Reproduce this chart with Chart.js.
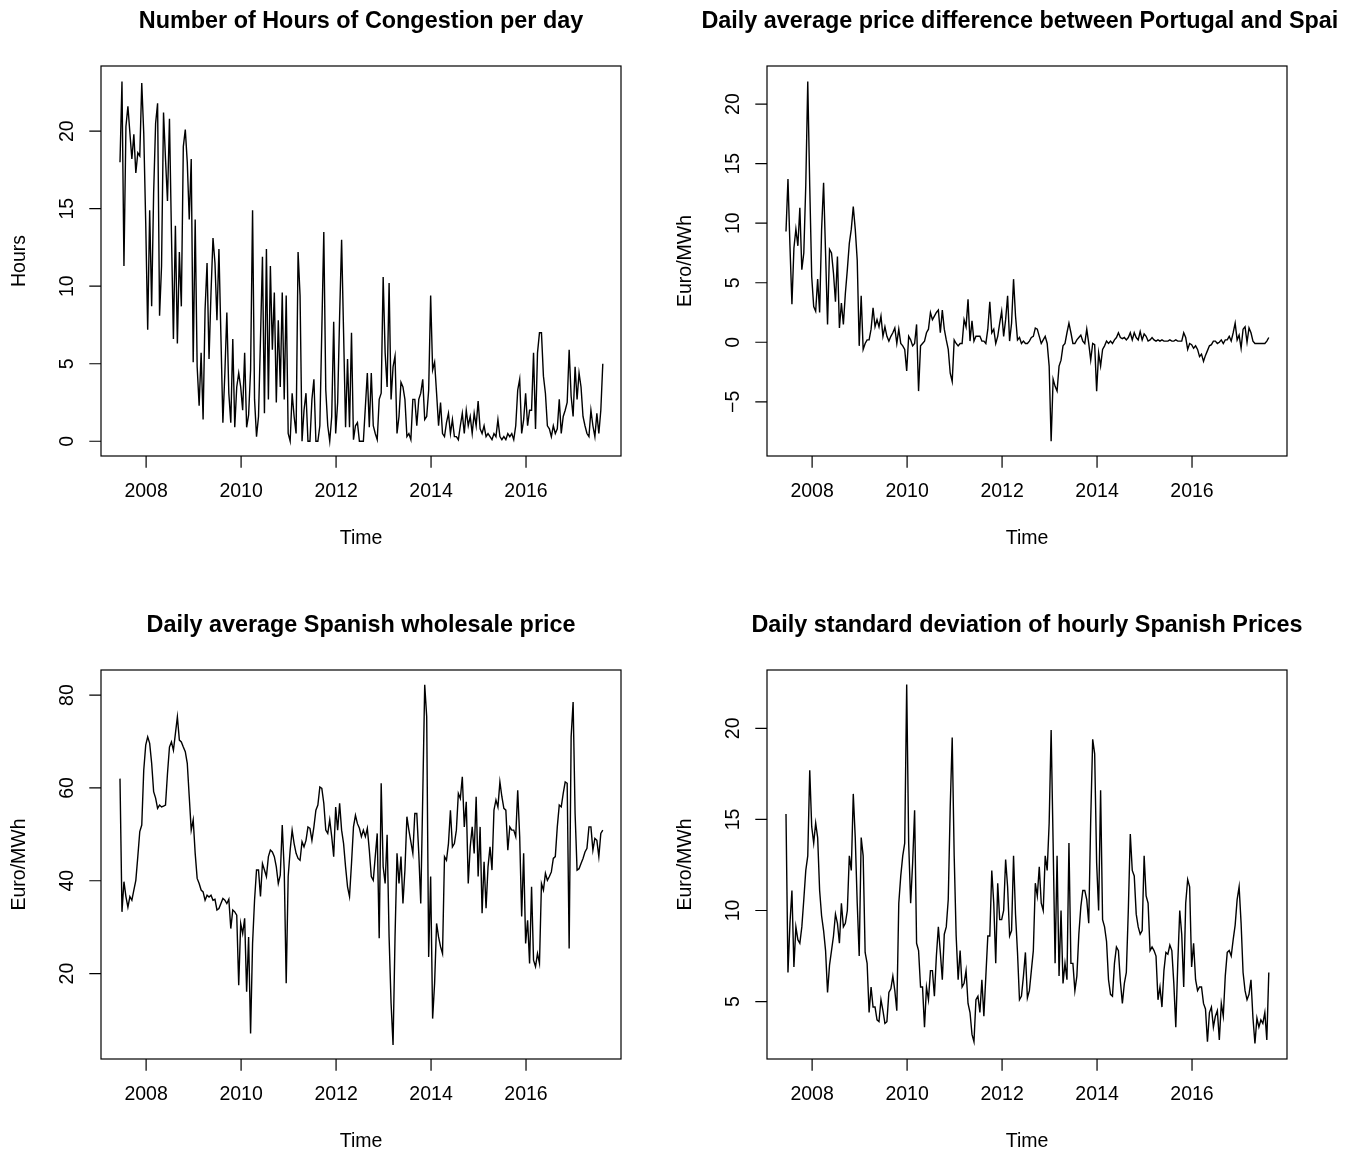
<!DOCTYPE html>
<html>
<head>
<meta charset="utf-8">
<title>Congestion and prices</title>
<script src="https://cdn.jsdelivr.net/npm/chart.js@4.4.1/dist/chart.umd.min.js"></script>
<style>
  body { margin: 0; background: #fff; }
  #wrap { position: relative; width: 1360px; height: 1155px; }
  canvas { position: absolute; }
</style>
</head>
<body>
<div id="wrap">
  <canvas id="plot1" width="660" height="577" style="left:0;top:0"></canvas>
  <canvas id="plot2" width="678" height="577" style="left:660px;top:0"></canvas>
  <canvas id="plot3" width="660" height="578" style="left:0;top:577px"></canvas>
  <canvas id="plot4" width="678" height="578" style="left:660px;top:577px"></canvas>
</div>
<script>
// half-monthly series, first observation mid 2007
let tsStart = 2007.45;
let tsFreq = 24;

let yearTicks = [2008, 2010, 2012, 2014, 2016];

let congestion = [
  18.0, 23.2, 11.3, 20.3, 21.6, 19.9, 18.2, 19.8, 17.3, 18.6, 18.4, 23.1, 19.9, 14.1, 7.2, 14.9, 8.7, 16.0, 20.5, 21.8,
  8.1, 11.3, 21.2, 18.2, 15.5, 20.8, 13.4, 6.6, 13.9, 6.3, 12.2, 8.7, 19.0, 20.1, 18.0, 14.3, 18.2, 5.1, 14.3, 4.8,
  2.3, 5.7, 1.4, 8.5, 11.5, 5.3, 9.6, 13.1, 11.5, 7.8, 12.4, 6.8, 1.2, 4.4, 8.3, 3.1, 1.2, 6.6, 0.9, 3.5,
  4.4, 3.5, 2.0, 5.7, 0.9, 1.7, 4.6, 14.9, 2.7, 0.3, 1.6, 6.6, 11.9, 1.8, 12.4, 2.7, 11.3, 5.9, 9.6, 2.5,
  7.8, 3.5, 9.6, 2.7, 9.4, 0.5, 0, 3.1, 1.6, 0.5, 12.2, 9.4, 0, 2.0, 3.1, 0, 0, 2.7, 4.0, 0,
  0, 1.0, 7.2, 13.5, 3.3, 1.0, 0, 1.6, 7.7, 0.5, 2.5, 8.1, 13.0, 7.0, 0.9, 5.3, 0.9, 7.0, 0.1, 1.0,
  1.2, 0, 0, 0, 2.2, 4.4, 0.9, 4.4, 1.0, 0.5, 0.1, 2.7, 3.1, 10.6, 5.7, 3.5, 10.2, 2.7, 4.8, 5.5,
  0.5, 1.6, 3.8, 3.5, 2.7, 0.3, 0.5, 0.1, 2.7, 2.7, 1.0, 2.7, 3.1, 4.0, 1.4, 1.6, 3.3, 9.4, 4.6, 5.1,
  3.1, 1.0, 2.5, 0.5, 0.3, 1.2, 1.8, 0.5, 1.4, 0.3, 0.3, 0.1, 1.0, 1.8, 0.5, 2.0, 1.0, 1.6, 0.5, 1.8,
  1.0, 2.6, 0.8, 0.5, 1.0, 0.3, 0.5, 0.3, 0.1, 0.5, 0.3, 1.4, 0.3, 0.1, 0.3, 0.1, 0.5, 0.3, 0.5, 0.1,
  1.0, 3.3, 4.0, 0.5, 1.4, 3.1, 1.0, 2.0, 2.0, 5.7, 0.8, 5.7, 7.0, 7.0, 4.2, 3.1, 1.0, 0.8, 0.3, 1.0,
  0.5, 0.8, 2.7, 0.5, 1.6, 2.0, 2.5, 5.9, 2.9, 1.6, 4.8, 2.7, 4.4, 3.5, 1.6, 1.0, 0.5, 0.3, 2.0, 1.0,
  0.3, 1.8, 0.5, 2.0, 5.0
];

let priceDiff = [
  9.3, 13.7, 8.1, 3.2, 7.9, 9.5, 8.1, 11.3, 6.1, 7.5, 13.2, 21.9, 13.1, 5.5, 3.0, 2.6, 5.3, 2.5, 9.5, 13.4,
  7.5, 1.5, 7.8, 7.5, 5.8, 3.4, 7.2, 1.2, 3.3, 1.5, 4.1, 6.1, 8.3, 9.5, 11.4, 9.5, 6.9, -0.3, 3.9, -0.6,
  -0.1, 0.2, 0.2, 1.1, 2.9, 1.3, 1.9, 1.3, 2.2, 0.5, 1.3, 0.5, 0.1, 0.5, 0.8, 1.2, -0.1, 1.1, -0.1, -0.3,
  -0.6, -2.4, 0.5, 0.2, -0.3, -0.1, 1.5, -4.1, -0.3, -0.1, 0.1, 0.8, 1.1, 2.5, 1.9, 2.2, 2.5, 2.7, 0.8, 2.7,
  1.1, 0.2, -0.6, -2.6, -3.3, 0.2, -0.1, -0.3, -0.1, -0.1, 1.9, 1.3, 3.6, 0.1, 1.8, 0.1, 0.5, 0.5, 0.5, 0.1,
  0.1, -0.1, 1.1, 3.4, 0.8, 1.1, -0.1, 0.5, 1.6, 2.6, 0.5, 1.9, 3.9, 0.1, 1.6, 5.3, 2.2, 0.2, 0.4, -0.1,
  0.1, -0.1, -0.1, 0.1, 0.4, 0.5, 1.2, 1.1, 0.5, -0.1, 0.2, 0.5, -0.1, -2.0, -8.3, -3.1, -3.7, -4.1, -2.0, -1.5,
  -0.3, -0.1, 0.8, 1.6, 0.8, -0.1, -0.1, 0.2, 0.4, 0.6, 0.1, -0.1, 1.1, -0.1, -1.5, -0.1, -0.2, -4.1, -0.9, -2.0,
  -0.6, -0.3, 0.1, -0.1, 0.1, -0.1, 0.2, 0.4, 0.8, 0.4, 0.3, 0.4, 0.2, 0.4, 0.8, 0.2, 0.8, 0.4, 0.2, 0.9,
  0.2, 0.7, 0.5, 0.1, 0.2, 0.4, 0.2, 0.1, 0.2, 0.1, 0.2, 0.1, 0.1, 0.1, 0.2, 0.1, 0.1, 0.2, 0.1, 0.1,
  0.1, 0.8, 0.4, -0.6, -0.1, -0.2, -0.5, -0.3, -0.6, -1.2, -1.0, -1.6, -1.1, -0.7, -0.3, -0.2, 0.1, 0.1, -0.1, 0.0,
  0.2, -0.1, 0.2, 0.2, 0.5, 0.1, 0.8, 1.6, 0.2, 0.6, -0.5, 1.1, 1.3, 0.0, 1.2, 0.8, 0.1, -0.1, -0.1, -0.1,
  -0.1, -0.1, -0.1, 0.1, 0.4
];

let spainPrice = [
  62.0, 33.3, 39.8, 36.6, 34.3, 36.6, 35.8, 38.0, 40.1, 45.2, 50.6, 52.0, 63.8, 69.2, 71.0, 69.6, 65.3, 59.2, 57.8, 55.6,
  56.3, 55.9, 56.1, 56.3, 63.1, 68.8, 69.9, 68.1, 71.7, 75.3, 70.3, 69.9, 68.8, 67.8, 65.3, 58.1, 50.9, 53.1, 45.9, 40.5,
  39.4, 38.0, 37.6, 35.8, 36.9, 36.5, 36.9, 35.8, 36.0, 33.7, 34.0, 35.1, 36.2, 35.8, 35.1, 36.0, 29.7, 33.7, 33.3, 32.6,
  17.5, 30.8, 28.6, 31.9, 16.1, 27.9, 7.1, 26.5, 35.8, 42.3, 42.3, 36.6, 43.7, 42.3, 40.9, 45.2, 46.6, 46.2, 45.2, 43.0,
  39.4, 41.2, 52.0, 42.3, 17.9, 40.9, 46.6, 50.9, 48.0, 45.9, 44.8, 44.4, 48.4, 47.3, 48.7, 51.6, 51.3, 48.7, 51.6, 55.2,
  56.3, 60.2, 59.9, 56.7, 50.9, 50.2, 53.1, 49.5, 45.2, 55.9, 50.9, 56.7, 50.9, 48.0, 43.0, 38.7, 36.6, 43.7, 51.6, 54.1,
  52.3, 51.3, 49.5, 50.9, 49.5, 51.3, 46.6, 40.9, 40.1, 45.2, 50.2, 27.6, 61.0, 43.0, 39.4, 49.9, 27.9, 13.6, 4.6, 27.9,
  45.9, 39.4, 45.2, 35.1, 42.3, 53.8, 50.9, 48.4, 45.9, 54.5, 54.5, 45.9, 35.1, 58.1, 82.2, 75.4, 23.6, 40.9, 10.3, 17.9,
  30.8, 27.9, 25.8, 24.3, 45.2, 44.4, 48.0, 55.2, 47.3, 48.0, 50.9, 58.8, 57.7, 62.4, 51.6, 57.0, 39.4, 47.3, 51.6, 45.9,
  58.1, 40.9, 51.6, 33.0, 44.1, 34.1, 43.0, 47.3, 42.3, 55.2, 57.4, 55.9, 61.3, 58.1, 55.6, 55.2, 46.6, 51.6, 50.9, 50.9,
  49.5, 59.5, 49.5, 32.3, 45.9, 26.5, 31.5, 22.2, 38.7, 22.9, 21.5, 24.3, 22.2, 39.4, 38.0, 41.6, 40.1, 40.9, 41.9, 44.8,
  45.2, 51.6, 56.3, 55.9, 58.8, 61.3, 61.0, 25.4, 71.0, 78.5, 54.5, 42.3, 42.6, 43.7, 44.8, 46.2, 47.0, 51.6, 51.6, 46.6,
  49.1, 48.7, 45.2, 50.2, 50.9
];

let spainStd = [
  15.3, 6.6, 9.3, 11.1, 6.9, 9.1, 8.4, 8.2, 9.1, 10.6, 12.2, 13.0, 17.7, 14.6, 13.7, 14.8, 14.0, 11.1, 9.7, 8.9,
  7.8, 5.5, 7.0, 7.8, 8.6, 9.8, 9.3, 8.2, 10.4, 9.1, 9.3, 10.0, 13.0, 12.2, 16.4, 14.0, 10.4, 7.5, 14.0, 13.0,
  7.7, 7.1, 4.4, 5.8, 4.7, 4.7, 4.0, 3.9, 5.1, 4.5, 3.8, 3.9, 5.5, 5.7, 6.4, 5.6, 4.5, 10.4, 11.9, 13.0,
  13.7, 22.4, 13.7, 10.4, 12.6, 15.5, 8.2, 7.8, 5.8, 5.8, 3.6, 5.8, 5.1, 6.7, 6.7, 5.3, 7.5, 9.1, 7.7, 6.2,
  8.7, 9.1, 10.6, 15.7, 19.5, 13.0, 8.6, 6.2, 7.8, 5.8, 6.0, 6.7, 4.9, 4.4, 3.2, 2.8, 5.1, 5.3, 4.4, 6.2,
  4.2, 6.4, 8.6, 8.6, 12.2, 10.4, 7.1, 11.5, 9.5, 9.5, 10.0, 12.8, 11.3, 8.6, 8.9, 13.0, 9.8, 7.7, 5.1, 5.3,
  6.4, 7.7, 5.2, 5.6, 6.7, 7.8, 11.5, 10.8, 12.4, 10.4, 10.0, 13.0, 12.2, 14.8, 19.9, 13.7, 7.1, 13.0, 6.4, 10.0,
  6.0, 7.1, 6.2, 13.7, 7.1, 7.1, 5.6, 6.4, 8.7, 10.2, 11.1, 11.1, 10.6, 9.3, 15.0, 19.4, 18.6, 12.6, 10.0, 16.6,
  9.5, 9.1, 8.3, 6.2, 5.4, 5.3, 7.1, 8.0, 7.8, 6.1, 4.9, 6.0, 6.6, 10.0, 14.2, 12.2, 11.9, 9.8, 9.1, 8.7,
  8.9, 13.0, 10.8, 10.4, 7.8, 8.0, 7.8, 7.5, 5.1, 5.8, 4.7, 6.7, 7.7, 7.6, 8.1, 7.8, 6.0, 3.6, 7.1, 10.0,
  8.7, 5.8, 10.4, 11.7, 11.3, 6.9, 8.2, 6.2, 5.6, 5.8, 5.8, 4.9, 4.6, 2.8, 4.4, 4.7, 3.6, 4.2, 4.5, 2.9,
  4.9, 4.2, 6.4, 7.7, 7.8, 7.5, 8.4, 9.2, 10.6, 11.3, 9.3, 6.6, 5.6, 5.1, 5.4, 6.2, 4.1, 2.7, 4.1, 3.6,
  4.0, 3.8, 4.4, 2.9, 6.6
];

let congTicks = [0, 5, 10, 15, 20];
let diffTicks = [-5, 0, 5, 10, 15, 20];
let priceTicks = [20, 40, 60, 80];
let stdTicks = [5, 10, 15, 20];

let fontRegular = '19.5px "Liberation Sans", Arial, Helvetica, sans-serif';
let fontBold = 'bold 23.4px "Liberation Sans", Arial, Helvetica, sans-serif';

// turns a regular series into {x, y} points on the time axis
let toPoints = (values) => values.map((v, i) => ({ x: tsStart + i / tsFreq, y: v }));

// base-graphics look: box, outward ticks, rotated y labels, titles
let baseFrame = {
  id: 'baseFrame',
  afterDraw(chart, args, opts) {
    let ctx = chart.ctx;
    let a = chart.chartArea;
    let xs = chart.scales.x;
    let ys = chart.scales.y;
    let tick = 11.7;

    ctx.save();
    ctx.strokeStyle = '#000';
    ctx.fillStyle = '#000';
    ctx.lineWidth = 1.2;
    ctx.strokeRect(a.left, a.top, a.right - a.left, a.bottom - a.top);

    ctx.beginPath();
    yearTicks.forEach(t => {
      let px = xs.getPixelForValue(t);
      ctx.moveTo(px, a.bottom);
      ctx.lineTo(px, a.bottom + tick);
    });
    opts.yTicks.forEach(t => {
      let py = ys.getPixelForValue(t);
      ctx.moveTo(a.left, py);
      ctx.lineTo(a.left - tick, py);
    });
    ctx.stroke();

    ctx.font = fontRegular;
    ctx.textAlign = 'center';
    ctx.textBaseline = 'alphabetic';
    yearTicks.forEach(t => ctx.fillText(String(t), xs.getPixelForValue(t), a.bottom + 41));
    ctx.fillText('Time', (a.left + a.right) / 2, a.bottom + 88);

    opts.yTicks.forEach(t => {
      ctx.save();
      ctx.translate(a.left - 28, ys.getPixelForValue(t));
      ctx.rotate(-Math.PI / 2);
      ctx.fillText(t < 0 ? '\u2212' + Math.abs(t) : String(t), 0, 0);
      ctx.restore();
    });

    ctx.save();
    ctx.translate(a.left - 76, (a.top + a.bottom) / 2);
    ctx.rotate(-Math.PI / 2);
    ctx.fillText(opts.yTitle, 0, 0);
    ctx.restore();

    ctx.font = fontBold;
    ctx.fillText(opts.title, (a.left + a.right) / 2, a.top - 38);
    ctx.restore();
  }
};

let makePlot = (id, values, yMin, yMax, pad, title, yTitle, yTicks) => {
  return new Chart(document.getElementById(id), {
    type: 'line',
    data: {
      datasets: [{
        data: toPoints(values),
        borderColor: '#000',
        borderWidth: 1.4,
        pointRadius: 0,
        tension: 0,
        fill: false
      }]
    },
    options: {
      responsive: false,
      animation: false,
      devicePixelRatio: 1,
      events: [],
      layout: { padding: pad },
      scales: {
        x: { type: 'linear', min: 2007.05, max: 2018.0, display: false },
        y: { type: 'linear', min: yMin, max: yMax, display: false }
      },
      plugins: {
        legend: { display: false },
        tooltip: { enabled: false },
        baseFrame: { title: title, yTitle: yTitle, yTicks: yTicks }
      }
    },
    plugins: [baseFrame]
  });
};

makePlot('plot1', congestion, -0.95, 24.2,
  { left: 101, right: 39, top: 66, bottom: 121 },
  'Number of Hours of Congestion per day', 'Hours', congTicks);

makePlot('plot2', priceDiff, -9.55, 23.2,
  { left: 107, right: 51, top: 66, bottom: 121 },
  'Daily average price difference between Portugal and Spain', 'Euro/MWh', diffTicks);

makePlot('plot3', spainPrice, 1.6, 85.4,
  { left: 101, right: 39, top: 93, bottom: 96 },
  'Daily average Spanish wholesale price', 'Euro/MWh', priceTicks);

makePlot('plot4', spainStd, 1.85, 23.2,
  { left: 107, right: 51, top: 93, bottom: 96 },
  'Daily standard deviation of hourly Spanish Prices', 'Euro/MWh', stdTicks);
</script>
</body>
</html>
